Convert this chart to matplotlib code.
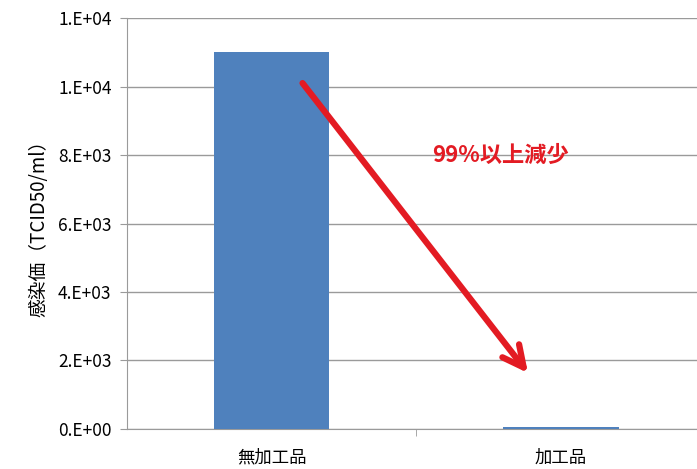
import matplotlib
matplotlib.use("Agg")
from matplotlib import pyplot as plt
from matplotlib.ticker import FuncFormatter, FixedLocator

# Data
categories = ["無加工品", "加工品"]
values = [11000, 50]
y_ticks = [0, 2000, 4000, 6000, 8000, 10000, 12000]
y_label = "感染価（TCID50/ml）"
note = "99%以上減少"

plt.rcParams['font.family'] = ['Noto Sans CJK JP', 'DejaVu Sans']

fig = plt.figure(figsize=(6.97, 4.69), dpi=100)
ax = fig.add_axes([0.182, 0.0853, 0.818, 0.8763])

x = range(len(categories))
ax.bar(x, values, width=0.4, color="#4F81BD", zorder=3)

ax.set_xlim(-0.5, 1.47)
ax.set_ylim(0, 12000)

# Excel-like scientific labels
def sci(v, pos):
    if v == 0:
        return "0.E+00"
    exp = len(str(int(v))) - 1
    return "%d.E+%02d" % (round(v / 10 ** exp), exp)

ax.yaxis.set_major_locator(FixedLocator(y_ticks))
ax.yaxis.set_major_formatter(FuncFormatter(sci))
ax.grid(axis="y", color="#9a9a9a", linewidth=1, zorder=0)

ax.set_xticks(list(x))
ax.set_xticklabels(categories, fontsize=12.5)
ax.xaxis.set_minor_locator(FixedLocator([0.5]))
ax.tick_params(axis="x", which="major", length=0, pad=14)
ax.tick_params(axis="x", which="minor", length=5, color="#9a9a9a")
ax.tick_params(axis="y", length=5, color="#9a9a9a", labelsize=12.5, pad=6)

for s in ["top", "right"]:
    ax.spines[s].set_visible(False)
for s in ["left", "bottom"]:
    ax.spines[s].set_color("#9a9a9a")

ax.set_ylabel(y_label, fontsize=13.5, labelpad=6)

# Red arrow and annotation
ax.annotate("", xy=(0.886, 1635), xytext=(0.107, 10100),
            arrowprops=dict(arrowstyle="->", color="#E31B23", lw=4.5,
                            mutation_scale=38, shrinkA=0, shrinkB=0),
            zorder=5)
ax.text(0.79, 8000, note, color="#E31B23", fontsize=16, fontweight="bold",
        ha="center", va="center", zorder=5)

plt.savefig("out.png", dpi=100)
